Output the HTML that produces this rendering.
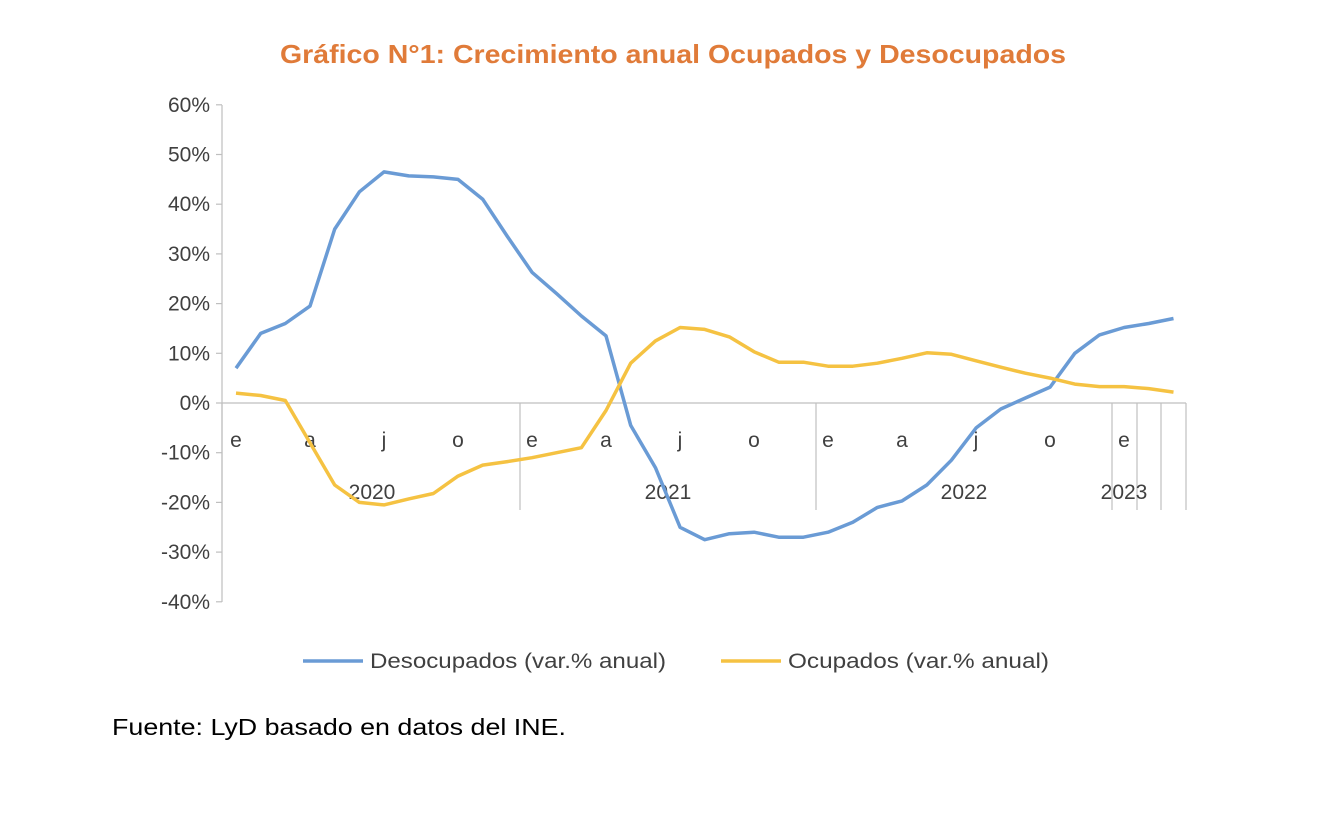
<!DOCTYPE html>
<html><head><meta charset="utf-8"><style>
body{margin:0;background:#fff;width:1338px;height:818px;overflow:hidden;font-family:"Liberation Sans",sans-serif}
</style></head><body>
<svg id="s" width="1338" height="818" xmlns="http://www.w3.org/2000/svg" font-family="Liberation Sans, sans-serif">
<text x="280" y="63" textLength="786" lengthAdjust="spacingAndGlyphs" font-size="26" font-weight="bold" fill="#E07B39">Gráfico N°1: Crecimiento anual Ocupados y Desocupados</text>
<g id="ax" stroke="#bfbfbf" stroke-width="1.2" fill="none"></g>
<g id="yl" font-size="21" fill="#404040" text-anchor="end"></g>
<g font-size="21" fill="#404040" text-anchor="middle">
<text x="236" y="447">e</text><text x="310" y="447">a</text><text x="384" y="447">j</text><text x="458" y="447">o</text>
<text x="532" y="447">e</text><text x="606" y="447">a</text><text x="680" y="447">j</text><text x="754" y="447">o</text>
<text x="828" y="447">e</text><text x="902" y="447">a</text><text x="976" y="447">j</text><text x="1050" y="447">o</text>
<text x="1124" y="447">e</text>
<text x="372" y="499">2020</text><text x="668" y="499">2021</text><text x="964" y="499">2022</text><text x="1124" y="499">2023</text>
</g>
<polyline id="b" fill="none" stroke="#6A9BD5" stroke-width="3.5" stroke-linejoin="round"/>
<polyline id="y" fill="none" stroke="#F5C242" stroke-width="3.5" stroke-linejoin="round"/>
<line x1="303" y1="661" x2="363" y2="661" stroke="#6A9BD5" stroke-width="3.5"/>
<text x="370" y="668" textLength="296" lengthAdjust="spacingAndGlyphs" font-size="21" fill="#404040">Desocupados (var.% anual)</text>
<line x1="721" y1="661" x2="781" y2="661" stroke="#F5C242" stroke-width="3.5"/>
<text x="788" y="668" textLength="261" lengthAdjust="spacingAndGlyphs" font-size="21" fill="#404040">Ocupados (var.% anual)</text>
<text x="112" y="735" textLength="454" lengthAdjust="spacingAndGlyphs" font-size="23" fill="#000">Fuente: LyD basado en datos del INE.</text>
</svg>
<script>
var Y0=403,K=4.97,X0=236,DX=24.67;
var B=[7,14,16,19.5,35,42.5,46.5,45.7,45.5,45,41,33.5,26.3,22,17.5,13.5,-4.5,-13,-25,-27.5,-26.3,-26,-27,-27,-26,-24,-21,-19.7,-16.5,-11.5,-5,-1.2,1,3.2,10,13.7,15.2,16,17];
var Yv=[2,1.5,0.5,-8,-16.5,-20,-20.5,-19.3,-18.2,-14.7,-12.5,-11.8,-11,-10,-9,-1.5,8,12.5,15.2,14.8,13.3,10.3,8.2,8.2,7.4,7.4,8,9,10.1,9.8,8.5,7.2,6,5,3.8,3.3,3.3,2.9,2.2];
function pts(a){return a.map(function(v,i){return (X0+i*DX).toFixed(1)+","+(Y0-v*K).toFixed(1)}).join(" ")}
document.getElementById("b").setAttribute("points",pts(B));
document.getElementById("y").setAttribute("points",pts(Yv));
var ax=document.getElementById("ax"),yl=document.getElementById("yl"),h="",t="";
h+='<line x1="222" y1="105" x2="222" y2="602"/>';
for(var p=60;p>=-40;p-=10){var y=Y0-p*K;h+='<line x1="216" y1="'+y+'" x2="222" y2="'+y+'"/>';t+='<text x="210" y="'+(y+7)+'">'+p+'%</text>';}
h+='<line x1="222" y1="403" x2="1186" y2="403"/>';
[222,520,816,1112,1137,1161,1186].forEach(function(x){h+='<line x1="'+x+'" y1="403" x2="'+x+'" y2="510"/>'});
ax.innerHTML=h;yl.innerHTML=t;
</script>
</body></html>
